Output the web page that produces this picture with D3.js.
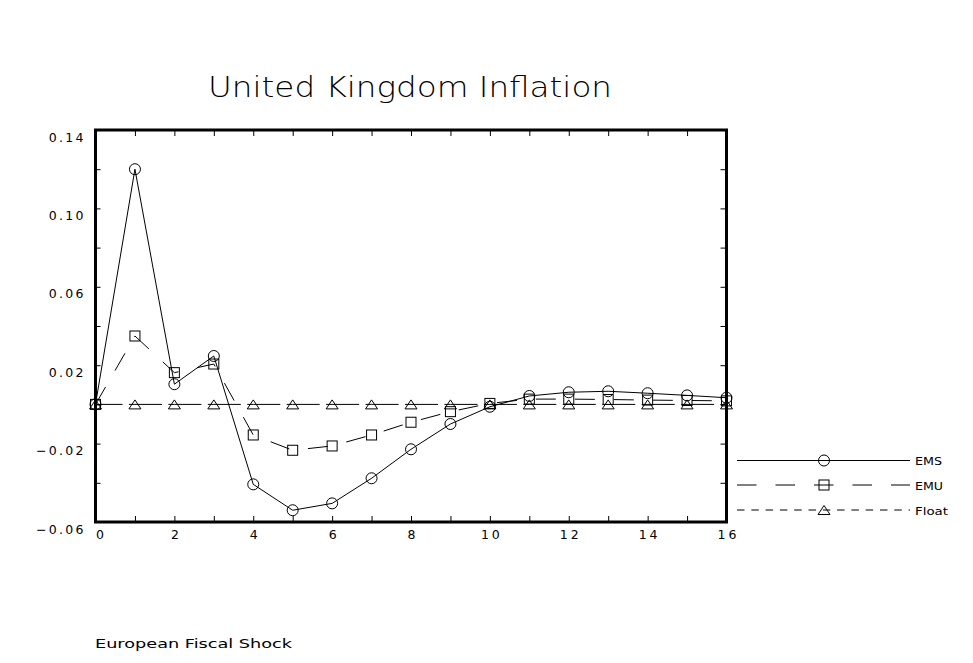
<!DOCTYPE html>
<html>
<head>
<meta charset="utf-8">
<script src="https://cdn.jsdelivr.net/npm/d3@7"></script>
<style>
  html, body { margin: 0; padding: 0; background: #fff; }
  svg { display: block; }
  text { font-family: "DejaVu Sans", "Liberation Sans", sans-serif; fill: #000; }
  text.thin { font-family: "DejaVu Sans ExtraLight", "DejaVu Sans", sans-serif; font-weight: 200; }
</style>
</head>
<body>
<svg id="chart" width="973" height="663"></svg>
<script>
// ---- Data ----
const periods = [0, 1, 2, 3, 4, 5, 6, 7, 8, 9, 10, 11, 12, 13, 14, 15, 16];
const ems   = [0, 0.1200, 0.0103, 0.0247, -0.0408, -0.0540, -0.0505, -0.0377, -0.0229, -0.0100, -0.0012, 0.0043, 0.0062, 0.0067, 0.0057, 0.0046, 0.0034];
const emu   = [0, 0.0349, 0.0162, 0.0206, -0.0156, -0.0234, -0.0212, -0.0156, -0.0091, -0.0037, 0.0005, 0.0027, 0.0027, 0.0025, 0.0022, 0.0020, 0.0018];
const floatS = [0, 0, 0, 0, 0, 0, 0, 0, 0, 0, 0, 0, 0, 0, 0, 0, 0];
const seriesNames = ["EMS", "EMU", "Float"];
const xTicks = [0, 1, 2, 3, 4, 5, 6, 7, 8, 9, 10, 11, 12, 13, 14, 15, 16];
const xLabels = [0, 2, 4, 6, 8, 10, 12, 14, 16];
const yTicks = [-0.06, -0.04, -0.02, 0, 0.02, 0.04, 0.06, 0.08, 0.10, 0.12, 0.14];
const yLabels = [-0.06, -0.02, 0.02, 0.06, 0.10, 0.14];
const titleText = "United Kingdom Inflation";
const footerText = "European Fiscal Shock";

// ---- Layout ----
const svg = d3.select("#chart");
const L = 95.5, R = 726.5, T = 130, B = 522;
const x = d3.scaleLinear().domain([0, 16]).range([L, R]);
const y = d3.scaleLinear().domain([-0.06, 0.14]).range([B, T]);
const FONT = '"DejaVu Sans", sans-serif';

// Title
svg.append("text").attr("class", "thin")
  .attr("x", 208).attr("y", 97)
  .attr("font-size", 29)
  .attr("textLength", 404).attr("lengthAdjust", "spacingAndGlyphs")
  .text(titleText);

// Footer
svg.append("text")
  .attr("x", 95).attr("y", 648)
  .attr("font-size", 12)
  .attr("textLength", 197).attr("lengthAdjust", "spacingAndGlyphs")
  .text(footerText);

// Axes (ticks inward)
const fmt = d3.format(".2f");
const gB = svg.append("g").attr("transform", `translate(0,${B})`)
  .call(d3.axisBottom(x).tickValues(xTicks).tickSizeInner(-6).tickSizeOuter(0)
    .tickPadding(14).tickFormat(d => xLabels.includes(d) ? String(d) : ""));
const gT = svg.append("g").attr("transform", `translate(0,${T})`)
  .call(d3.axisTop(x).tickValues(xTicks).tickSizeInner(-6).tickSizeOuter(0).tickFormat(""));
const gL = svg.append("g").attr("transform", `translate(${L},0)`)
  .call(d3.axisLeft(y).tickValues(yTicks).tickSizeInner(-5).tickSizeOuter(0)
    .tickPadding(12).tickFormat(d => yLabels.some(v => Math.abs(v - d) < 1e-9) ? fmt(d) : ""));
const gR = svg.append("g").attr("transform", `translate(${R},0)`)
  .call(d3.axisRight(y).tickValues(yTicks).tickSizeInner(-6).tickSizeOuter(0).tickFormat(""));

[gB, gT, gL, gR].forEach(g => {
  g.attr("font-family", FONT);
  g.select(".domain").remove();
  g.selectAll(".tick line").attr("stroke", "#000").attr("stroke-width", 1);
});
// hide ticks coinciding with frame
gL.selectAll(".tick").filter(d => Math.abs(d - 0.14) < 1e-9 || Math.abs(d + 0.06) < 1e-9).select("line").remove();
gR.selectAll(".tick").filter(d => Math.abs(d - 0.14) < 1e-9 || Math.abs(d + 0.06) < 1e-9).select("line").remove();
gB.selectAll(".tick").filter(d => d === 0 || d === 16).select("line").remove();
gT.selectAll(".tick").filter(d => d === 0 || d === 16).select("line").remove();

gB.selectAll(".tick text")
  .attr("font-size", 12.5)
  .attr("letter-spacing", 3).attr("dx", d => d === 0 ? 5.5 : 1.5).attr("dy", "0.2em");
gL.selectAll(".tick text")
  .attr("font-size", 12.5)
  .attr("letter-spacing", 2.3).attr("dx", 2.3).attr("dy", "0.88em");

// Frame
svg.append("rect")
  .attr("x", L).attr("y", T).attr("width", R - L).attr("height", B - T)
  .attr("fill", "none").attr("stroke", "#000").attr("stroke-width", 3);

// Lines
const line = vals => d3.line().x((d, i) => x(periods[i])).y(d => y(d))(vals);
const plot = svg.append("g");

plot.append("path").attr("d", line(floatS))
  .attr("fill", "none").attr("stroke", "#000").attr("stroke-width", 1)
  .attr("stroke-dasharray", "33,6.44").attr("stroke-dashoffset", 6);
plot.append("path").attr("d", line(emu))
  .attr("fill", "none").attr("stroke", "#000").attr("stroke-width", 1)
  .attr("stroke-dasharray", "20,19");
plot.append("path").attr("d", line(ems))
  .attr("fill", "none").attr("stroke", "#000").attr("stroke-width", 1);

// Markers
const tri = (cx, cy) => `M${cx},${cy - 4.5}L${cx + 6},${cy + 4.5}L${cx - 6},${cy + 4.5}Z`;
const mk = { fill: "none", stroke: "#000", "stroke-width": 1 };
function style(sel) { Object.entries(mk).forEach(([k, v]) => sel.attr(k, v)); return sel; }

style(plot.selectAll(".tri").data(floatS).enter().append("path")
  .attr("d", (d, i) => tri(x(periods[i]), y(d))));
style(plot.selectAll(".sq").data(emu).enter().append("rect")
  .attr("x", (d, i) => x(periods[i]) - 5).attr("y", d => y(d) - 5)
  .attr("width", 10).attr("height", 10));
style(plot.selectAll(".ci").data(ems).enter().append("circle")
  .attr("cx", (d, i) => x(periods[i])).attr("cy", d => y(d)).attr("r", 5.5));

// Legend
const legY = [460.5, 485, 510];
const legDash = [null, "19.5,19", "7.5,6.8"];
const lx0 = 737, lx1 = 910, lmx = 824;
const leg = svg.append("g");
seriesNames.forEach((name, i) => {
  const ly = legY[i];
  const ln = leg.append("line").attr("x1", lx0).attr("x2", lx1).attr("y1", ly).attr("y2", ly)
    .attr("stroke", "#000").attr("stroke-width", 1);
  if (legDash[i]) ln.attr("stroke-dasharray", legDash[i]);
  if (i === 0) style(leg.append("circle").attr("cx", lmx).attr("cy", ly).attr("r", 5.5));
  if (i === 1) style(leg.append("rect").attr("x", lmx - 5).attr("y", ly - 5).attr("width", 10).attr("height", 10));
  if (i === 2) style(leg.append("path").attr("d", tri(lmx, ly)));
  leg.append("text").attr("x", 915).attr("y", ly + 4.5)
    .attr("font-size", 11)
    .attr("textLength", [27, 28, 33][i]).attr("lengthAdjust", "spacingAndGlyphs")
    .text(name);
});
</script>
</body>
</html>
